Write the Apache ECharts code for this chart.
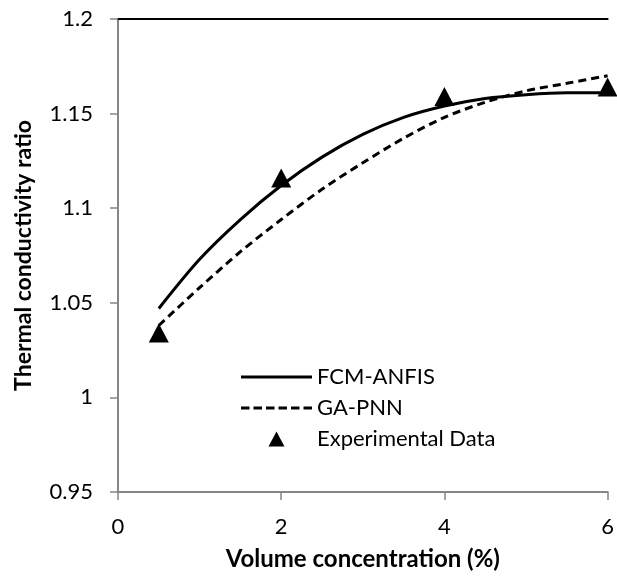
<!DOCTYPE html>
<html>
<head>
    <meta charset="utf-8">
    <title>Thermal conductivity ratio</title>
    <style>
        body { margin: 0; overflow: hidden; background: #fff; }
    </style>
</head>
<body>
	<div id="chart-container" style="width: 617px; height: 576px;"></div>

	<script src="https://cdn.jsdelivr.net/npm/echarts@6/dist/echarts.min.js"></script>
	<script>
		// values
		var curveX = [0.5, 1, 1.5, 2, 2.5, 3, 3.5, 4, 4.5, 5, 5.5, 6];
		var fcmAnfis = [1.047, 1.073, 1.094, 1.112, 1.127, 1.139, 1.148, 1.154, 1.158, 1.160, 1.161, 1.161];
		var gaPnn = [1.038, 1.058, 1.077, 1.094, 1.110, 1.124, 1.137, 1.148, 1.156, 1.162, 1.166, 1.170];
		var expX = [0.5, 2, 4, 6];
		var expY = [1.034, 1.116, 1.159, 1.164];

		function pairs(xs, ys) {
			return xs.map(function (x, i) { return [x, ys[i]]; });
		}

		var font = 'Lato, "Open Sans", sans-serif';
		var chart = echarts.init(document.getElementById('chart-container'));

		// legend icons: the two stray points fix the box to 71 x 15
		var box = 'M0,0L0.01,0M71,15L71.01,15';
		var iconSolid = 'path://' + box + 'M0,6h71v3H0Z';
		var iconDash = 'path://' + box +
			'M0,6h8.5v3H0ZM12.5,6h8.5v3h-8.5ZM25,6h8.5v3H25ZM37.5,6h8.5v3h-8.5ZM50,6h8.5v3H50ZM62.5,6h8.5v3h-8.5Z';
		var iconTri = 'path://' + box + 'M35.5,0L43.5,15L27.5,15Z';

		var option = {
			animation: false,
			grid: { left: 118, right: 8, top: 19, bottom: 83 },
			legend: {
				orient: 'vertical',
				left: 236,
				top: 361,
				itemWidth: 71,
				itemHeight: 15,
				itemGap: 9,
				textStyle: { fontFamily: font, fontSize: 22, lineHeight: 22, color: '#000' },
				data: [
					{ name: 'FCM-ANFIS', icon: iconSolid },
					{ name: 'GA-PNN', icon: iconDash },
					{ name: 'Experimental Data', icon: iconTri }
				]
			},
			xAxis: [{
				type: 'value',
				min: 0, max: 6, interval: 2,
				name: 'Volume concentration (%)',
				nameLocation: 'middle',
				nameGap: 55,
				nameTextStyle: { fontFamily: font, fontSize: 24, fontWeight: 'bold', color: '#000' },
				axisLine: { lineStyle: { color: '#868686', width: 2 } },
				axisTick: { show: true, inside: false, length: 8, lineStyle: { color: '#868686', width: 1.5 } },
				axisLabel: { fontFamily: font, fontSize: 22, color: '#000', margin: 24 },
				splitLine: { show: false }
			}, {
				type: 'value',
				position: 'top',
				min: 0, max: 6,
				axisLine: { show: true, lineStyle: { color: '#000', width: 2 } },
				axisTick: { show: false },
				axisLabel: { show: false },
				splitLine: { show: false }
			}],
			yAxis: {
				type: 'value',
				min: 0.95, max: 1.2, interval: 0.05,
				name: 'Thermal conductivity ratio',
				nameLocation: 'middle',
				nameGap: 83,
				nameTextStyle: { fontFamily: font, fontSize: 23, fontWeight: 'bold', color: '#000' },
				axisLine: { show: true, lineStyle: { color: '#868686', width: 2 } },
				axisTick: { show: true, inside: false, length: 8, lineStyle: { color: '#868686', width: 1.5 } },
				axisLabel: { fontFamily: font, fontSize: 22, color: '#000', margin: 25 },
				splitLine: { show: false }
			},
			series: [
				{
					name: 'FCM-ANFIS',
					type: 'line',
					smooth: 0.3,
					showSymbol: false,
					lineStyle: { color: '#000', width: 3, type: 'solid' },
					itemStyle: { color: '#000' },
					data: pairs(curveX, fcmAnfis)
				},
				{
					name: 'GA-PNN',
					type: 'line',
					smooth: 0.3,
					showSymbol: false,
					lineStyle: { color: '#000', width: 3, type: [8, 5] },
					itemStyle: { color: '#000' },
					data: pairs(curveX, gaPnn)
				},
				{
					name: 'Experimental Data',
					type: 'scatter',
					symbol: 'triangle',
					symbolSize: [20, 19],
					itemStyle: { color: '#000', opacity: 1 },
					z: 5,
					data: pairs(expX, expY)
				}
			]
		};

		chart.setOption(option);
	</script>
</body>
</html>
